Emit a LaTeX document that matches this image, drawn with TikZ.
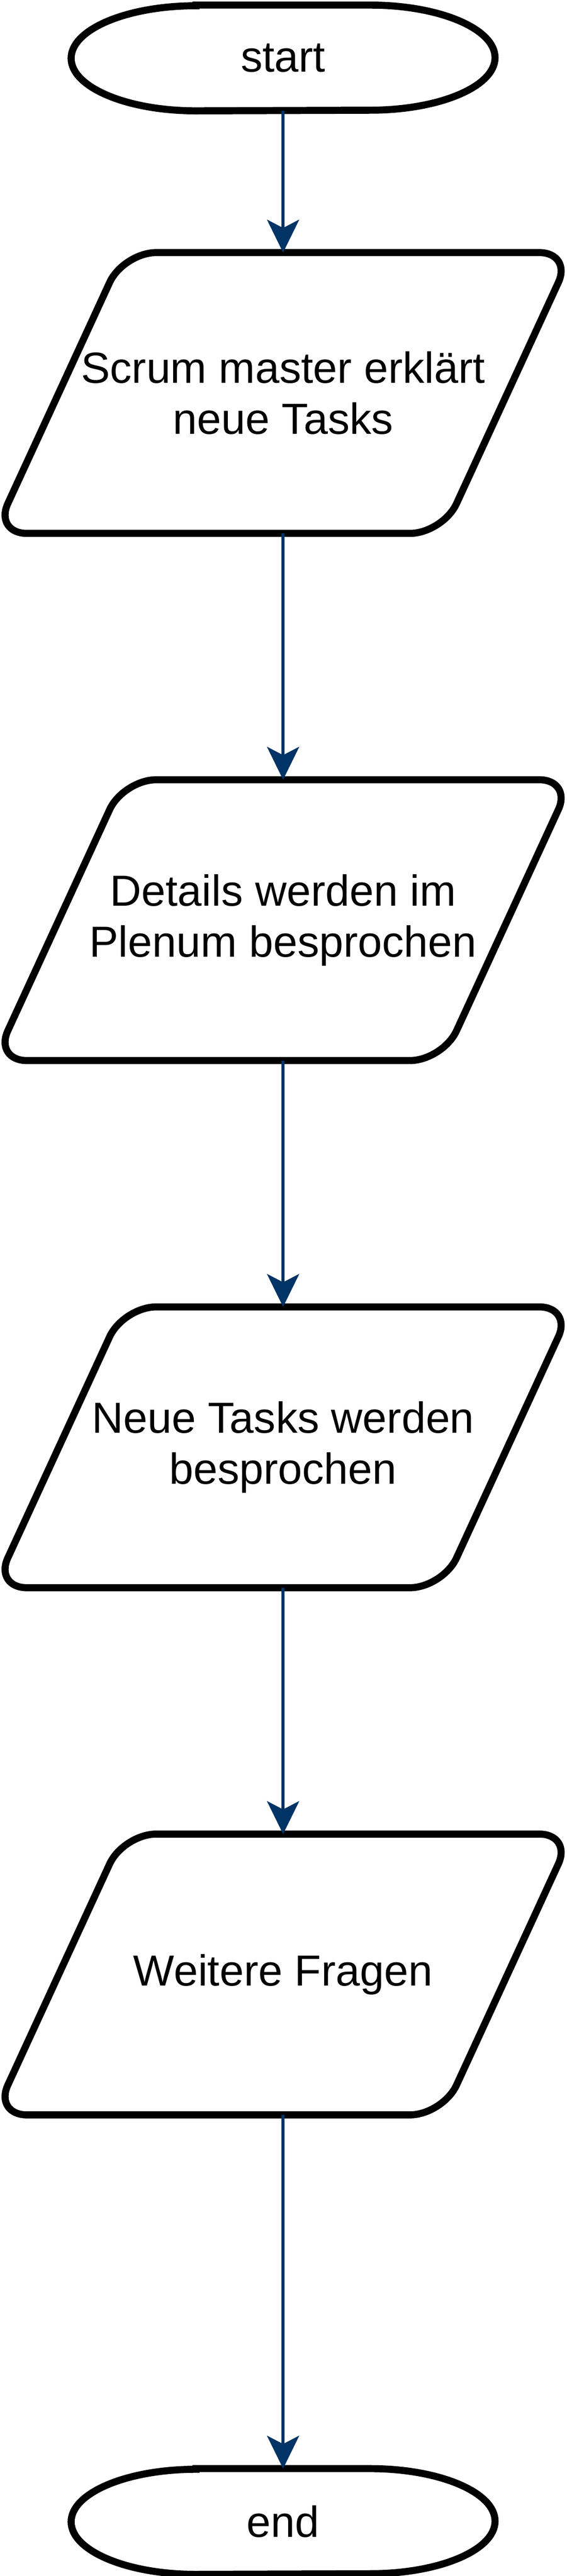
\documentclass[tikz,border=0pt]{standalone}
\usepackage{fontspec}
\setmainfont{Liberation Sans}
\usepackage{xcolor}
\usepackage{tikz}
\usetikzlibrary{arrows.meta}

\definecolor{flowblue}{RGB}{0,51,102}

\begin{document}
\begin{tikzpicture}[x=1pt,y=1pt]
\tikzstyle{every node}+=[inner sep=0pt, align=center, font=\fontsize{26.5pt}{31.2pt}\selectfont]
\tikzstyle{term}=[minimum width=257.6pt, minimum height=64pt]
\tikzstyle{para}=[minimum width=351.4pt, minimum height=170.6pt]
\tikzstyle{outline}=[black, line width=4.3pt]
\tikzstyle{flow}=[flowblue, line width=2pt, -{Stealth[length=20pt, width=19.5pt, inset=5pt]}]
\fill [white] (0,0) rectangle (345,-1568.6);
\useasboundingbox (0,0) rectangle (345,-1568.6);
\node [term] (st) at (172.3,-35.3) {start};
\node [para] (p1) at (172.3,-239.3) {Scrum master erklärt\\neue Tasks};
\node [para] (p2) at (172.3,-560.3) {Details werden im\\Plenum besprochen};
\node [para] (p3) at (172.3,-881.3) {Neue Tasks werden\\besprochen};
\node [para] (p4) at (172.3,-1202.3) {Weitere Fragen};
\node [term] (en) at (172.3,-1535.4) {end};
\foreach \t in {st,en}
  \draw [outline] ([xshift=76pt]\t.north west) -- ([xshift=-76pt]\t.north east)
    arc [start angle=90, end angle=-90, x radius=76pt, y radius=32pt]
    -- ([xshift=76pt]\t.south west)
    arc [start angle=270, end angle=90, x radius=76pt, y radius=32pt] -- cycle;
\foreach \p in {p1,p2,p3,p4}
  \draw [outline, rounded corners=20pt] ([xshift=78.7pt]\p.north west) -- (\p.north east)
    -- ([xshift=-78.7pt]\p.south east) -- (\p.south west) -- cycle;
\draw [flow] (st.south) -- (p1.north);
\draw [flow] (p1.south) -- (p2.north);
\draw [flow] (p2.south) -- (p3.north);
\draw [flow] (p3.south) -- (p4.north);
\draw [flow] (p4.south) -- (en.north);
\end{tikzpicture}
\end{document}
